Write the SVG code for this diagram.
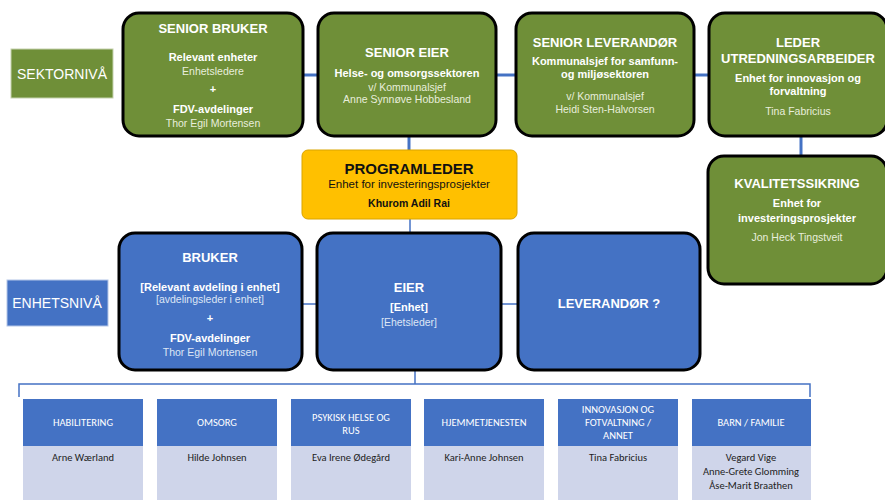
<svg xmlns="http://www.w3.org/2000/svg" width="885" height="500" viewBox="0 0 885 500">
<style>
text{font-family:"Liberation Sans",Arial,sans-serif;text-anchor:middle;}
.g{fill:#6f8f38;stroke:#000;stroke-width:3;}
.b{fill:#4472c4;stroke:#000;stroke-width:3;}
.t{fill:#fff;font-weight:bold;font-size:13px;}
.s{fill:#fff;font-weight:bold;font-size:11px;}
.n{fill:#e8eedc;font-size:10.5px;}
.nb{fill:#dde6f5;font-size:10.5px;}
.lvl{fill:#fff;font-size:14px;}
.h{fill:#fff;font-family:Carlito,"Liberation Sans",sans-serif;font-size:10.5px;}
.p{fill:#222;font-family:Carlito,"Liberation Sans",sans-serif;font-size:10.5px;}
.hd{fill:#4472c4;}
.bd{fill:#cfd5ea;}
.c{stroke:#4472c4;stroke-width:3;fill:none;}
.c2{stroke:#4472c4;stroke-width:1.5;fill:none;}
</style>
<g id="connectors">
<line class="c" x1="303" y1="75" x2="318" y2="75"/>
<line class="c" x1="496" y1="75" x2="516" y2="75"/>
<line class="c" x1="694" y1="75" x2="708" y2="75"/>
<line class="c" x1="409" y1="136" x2="409" y2="150"/>
<line class="c" x1="801" y1="136" x2="801" y2="156"/>
<line class="c2" x1="410" y1="219" x2="410" y2="232"/>
<line class="c2" x1="302" y1="304" x2="316" y2="304"/>
<line class="c2" x1="501" y1="304" x2="517" y2="304"/>
<line class="c2" x1="415" y1="370" x2="415" y2="384"/>
<path class="c2" d="M19,397 V384 H810 V397"/>
</g>
<g id="sektorniva"><rect x="11" y="49" width="102" height="49" fill="#6f8f38" stroke="#c5d2ad" stroke-width="1"/><text class="lvl" x="62" y="79">SEKTORNIVÅ</text></g>
<g id="enhetsniva"><rect x="7" y="280" width="101" height="46" fill="#4472c4" stroke="#b4c6e7" stroke-width="1"/><text class="lvl" x="57" y="308">ENHETSNIVÅ</text></g>
<g id="senior-bruker"><rect class="g" x="123" y="13" width="180" height="123" rx="16"/>
<text class="t" x="213" y="33">SENIOR BRUKER</text>
<text class="s" x="213" y="61">Relevant enheter</text>
<text class="n" x="213" y="75">Enhetsledere</text>
<text class="s" x="213" y="93">+</text>
<text class="s" x="213" y="113">FDV-avdelinger</text>
<text class="n" x="213" y="127">Thor Egil Mortensen</text></g>
<g id="senior-eier"><rect class="g" x="318" y="13" width="178" height="123" rx="16"/>
<text class="t" x="407" y="57">SENIOR EIER</text>
<text class="s" x="407" y="77">Helse- og omsorgssektoren</text>
<text class="n" x="407" y="91">v/ Kommunalsjef</text>
<text class="n" x="407" y="103">Anne Synnøve Hobbesland</text></g>
<g id="senior-leverandor"><rect class="g" x="516" y="13" width="178" height="123" rx="16"/>
<text class="t" x="605" y="47">SENIOR LEVERANDØR</text>
<text class="s" x="605" y="65">Kommunalsjef for samfunn-</text>
<text class="s" x="605" y="78">og miljøsektoren</text>
<text class="n" x="605" y="100">v/ Kommunalsjef</text>
<text class="n" x="605" y="113">Heidi Sten-Halvorsen</text></g>
<g id="leder-utredning"><rect class="g" x="709" y="13" width="178" height="123" rx="16"/>
<text class="t" x="798" y="47">LEDER</text>
<text class="t" x="798" y="63">UTREDNINGSARBEIDER</text>
<text class="s" x="798" y="82">Enhet for innovasjon og</text>
<text class="s" x="798" y="95">forvaltning</text>
<text class="n" x="798" y="115">Tina Fabricius</text></g>
<g id="kvalitetssikring"><rect class="g" x="708" y="156" width="179" height="128" rx="16"/>
<text class="t" x="797" y="188">KVALITETSSIKRING</text>
<text class="s" x="797" y="207">Enhet for</text>
<text class="s" x="797" y="222">investeringsprosjekter</text>
<text class="n" x="797" y="241">Jon Heck Tingstveit</text></g>
<g id="programleder"><rect x="302" y="150" width="215" height="69" rx="6" fill="#ffc000" stroke="#d9a400" stroke-width="1"/>
<text x="409" y="174" font-size="15" font-weight="bold" fill="#111">PROGRAMLEDER</text>
<text x="409" y="188" font-size="11.5" fill="#111">Enhet for investeringsprosjekter</text>
<text x="409" y="207" font-size="10.5" font-weight="bold" fill="#111">Khurom Adil Rai</text></g>
<g id="bruker"><rect class="b" x="119" y="233" width="183" height="137" rx="16"/>
<text class="t" x="210" y="262">BRUKER</text>
<text class="s" x="210" y="291">[Relevant avdeling i enhet]</text>
<text class="nb" x="210" y="303">[avdelingsleder i enhet]</text>
<text class="s" x="210" y="322">+</text>
<text class="s" x="210" y="342">FDV-avdelinger</text>
<text class="nb" x="210" y="356">Thor Egil Mortensen</text></g>
<g id="eier"><rect class="b" x="317" y="233" width="184" height="137" rx="16"/>
<text class="t" x="409" y="292">EIER</text>
<text class="s" x="409" y="311">[Enhet]</text>
<text class="nb" x="409" y="326">[Ehetsleder]</text></g>
<g id="leverandor"><rect class="b" x="518" y="233" width="182" height="137" rx="16"/>
<text class="t" x="609" y="308">LEVERANDØR ?</text></g>
<g id="habilitering"><rect class="hd" x="23" y="399" width="120" height="47"/><rect class="bd" x="23" y="446" width="120" height="54"/>
<text class="h" x="83" y="426">HABILITERING</text><text class="p" x="83" y="461">Arne Wærland</text></g>
<g id="omsorg"><rect class="hd" x="157" y="399" width="120" height="47"/><rect class="bd" x="157" y="446" width="120" height="54"/>
<text class="h" x="217" y="426">OMSORG</text><text class="p" x="217" y="461">Hilde Johnsen</text></g>
<g id="psykisk"><rect class="hd" x="291" y="399" width="120" height="47"/><rect class="bd" x="291" y="446" width="120" height="54"/>
<text class="h" x="351" y="421">PSYKISK HELSE OG</text><text class="h" x="351" y="434">RUS</text><text class="p" x="351" y="461">Eva Irene Ødegård</text></g>
<g id="hjemmetjenesten"><rect class="hd" x="424" y="399" width="120" height="47"/><rect class="bd" x="424" y="446" width="120" height="54"/>
<text class="h" x="484" y="426">HJEMMETJENESTEN</text><text class="p" x="484" y="461">Kari-Anne Johnsen</text></g>
<g id="innovasjon"><rect class="hd" x="558" y="399" width="120" height="47"/><rect class="bd" x="558" y="446" width="120" height="54"/>
<text class="h" x="618" y="413">INNOVASJON OG</text><text class="h" x="618" y="426">FOTVALTNING /</text><text class="h" x="618" y="439">ANNET</text><text class="p" x="618" y="461">Tina Fabricius</text></g>
<g id="barn-familie"><rect class="hd" x="692" y="399" width="119" height="47"/><rect class="bd" x="692" y="446" width="119" height="54"/>
<text class="h" x="751" y="426">BARN / FAMILIE</text><text class="p" x="751" y="461">Vegard Vige</text><text class="p" x="751" y="475">Anne-Grete Glomming</text><text class="p" x="751" y="489">Åse-Marit Braathen</text></g>
</svg>
